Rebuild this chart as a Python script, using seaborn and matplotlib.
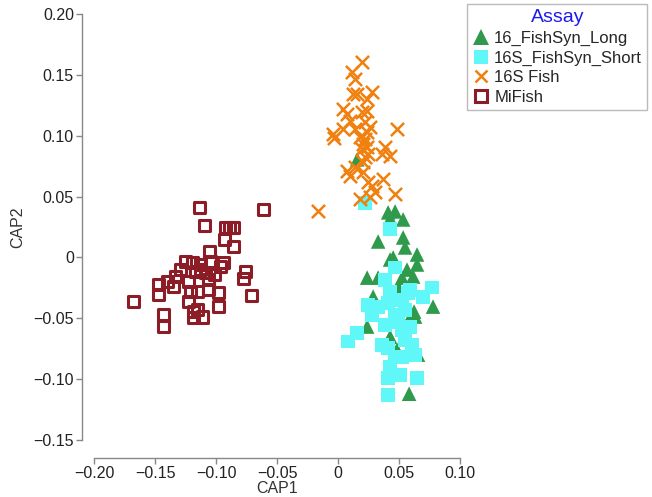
import matplotlib
matplotlib.use("Agg")
import matplotlib.pyplot as plt
import seaborn as sns
import pandas as pd
from matplotlib.lines import Line2D

# CAP scores
long_x = [0.0411, 0.0468, 0.0534, 0.0427, 0.0329, 0.0534, 0.0550, 0.0648, 0.0452, 0.0427,
          0.0648, 0.0566, 0.0239, 0.0329, 0.0525, 0.0493, 0.0616, 0.0157, 0.0288, 0.0779,
          0.0624, 0.0239, 0.0574, 0.0632, 0.0427, 0.0484, 0.0656, 0.0566, 0.0583, 0.0509]
long_y = [0.0370, 0.0378, 0.0312, 0.0320, 0.0131, 0.0164, 0.0082, 0.0024, -0.0001, -0.0017,
          -0.0058, -0.0100, -0.0166, -0.0166, -0.0166, -0.0240, -0.0157, 0.0806, -0.0322, -0.0404,
          -0.0445, -0.0568, -0.0527, -0.0486, -0.0651, -0.0758, -0.0799, -0.0783, -0.1120, -0.0322]

short_x = [0.0223, 0.0427, 0.0468, 0.0386, 0.0591, 0.0771, 0.0427, 0.0247, 0.0329, 0.0411,
           0.0525, 0.0574, 0.0157, 0.0084, 0.0362, 0.0411, 0.0550, 0.0607, 0.0525, 0.0632,
           0.0468, 0.0427, 0.0509, 0.0411, 0.0648, 0.0411, 0.0493, 0.0525, 0.0591, 0.0280,
           0.0697, 0.0468, 0.0550, 0.0386]
short_y = [0.0444, 0.0230, -0.0083, -0.0182, -0.0264, -0.0247, -0.0280, -0.0388, -0.0404, -0.0371,
           -0.0347, -0.0289, -0.0618, -0.0691, -0.0717, -0.0742, -0.0675, -0.0717, -0.0815, -0.0799,
           -0.0815, -0.0898, -0.0964, -0.0989, -0.0989, -0.1129, -0.0535, -0.0593, -0.0568, -0.0470,
           -0.0322, -0.0470, -0.0429, -0.0552]

fish_x = [0.0198, 0.0116, 0.0141, 0.0124, 0.0157, 0.0280, 0.0239, 0.0043, 0.0075, 0.0198,
          0.0239, 0.0100, 0.0223, 0.0264, 0.0043, 0.0141, 0.0484, -0.0039, 0.0239, -0.0031,
          0.0182, 0.0223, 0.0206, 0.0239, 0.0198, 0.0386, 0.0427, 0.0362, 0.0223, 0.0206,
          0.0141, 0.0075, 0.0100, 0.0206, 0.0247, 0.0370, 0.0305, 0.0182, 0.0264, 0.0468,
          -0.0162, 0.0280, 0.0247]
fish_y = [0.1605, 0.1523, 0.1466, 0.1342, 0.1342, 0.1358, 0.1301, 0.1218, 0.1177, 0.1194,
          0.1202, 0.1119, 0.1111, 0.1070, 0.1054, 0.1054, 0.1054, 0.1012, 0.1029, 0.0979,
          0.0988, 0.0971, 0.0930, 0.0905, 0.0889, 0.0905, 0.0831, 0.0848, 0.0823, 0.0782,
          0.0741, 0.0708, 0.0667, 0.0699, 0.0617, 0.0642, 0.0535, 0.0477, 0.0493, 0.0518,
          0.0378, 0.0584, 0.0848]

mifish_x = [-0.1136, -0.0612, -0.1095, -0.0923, -0.0890, -0.0857, -0.0931, -0.0857, -0.1054, -0.1046,
            -0.0939, -0.0964, -0.1128, -0.1250, -0.1193, -0.1291, -0.1169, -0.1332, -0.1087, -0.1398,
            -0.1472, -0.1472, -0.1349, -0.1226, -0.1062, -0.1210, -0.1152, -0.1062, -0.0980, -0.1226,
            -0.1185, -0.1185, -0.1152, -0.1111, -0.0980, -0.1676, -0.1430, -0.1430, -0.0759, -0.0776,
            -0.0710, -0.1128, -0.1013]
mifish_y = [0.0411, 0.0395, 0.0263, 0.0246, 0.0246, 0.0246, 0.0148, 0.0090, 0.0049, -0.0032,
            -0.0041, -0.0074, -0.0058, -0.0034, -0.0042, -0.0100, -0.0116, -0.0157, -0.0124, -0.0198,
            -0.0223, -0.0305, -0.0240, -0.0198, -0.0182, -0.0281, -0.0281, -0.0264, -0.0289, -0.0362,
            -0.0445, -0.0494, -0.0429, -0.0487, -0.0404, -0.0362, -0.0470, -0.0569, -0.0116, -0.0174,
            -0.0314, -0.0100, -0.0141]

x_ticks = [-0.20, -0.15, -0.10, -0.05, 0, 0.05, 0.10]
x_labels = ["\u22120.20", "\u22120.15", "\u22120.10", "\u22120.05", "0", "0.05", "0.10"]
y_ticks = [-0.15, -0.10, -0.05, 0, 0.05, 0.10, 0.15, 0.20]
y_labels = ["\u22120.15", "\u22120.10", "\u22120.05", "0", "0.05", "0.10", "0.15", "0.20"]

assays = ["16_FishSyn_Long", "16S_FishSyn_Short", "16S Fish", "MiFish"]
colors = ["#2f9a4c", "#5ff7f7", "#f0800f", "#8c1c26"]

sns.set_style("white")
plt.rcParams['font.family'] = ['Liberation Sans', 'DejaVu Sans']

fig = plt.figure(figsize=(6.52, 4.97), dpi=100)
ax = fig.add_axes([0.1442, 0.1147, 0.5613, 0.8571])

df_long = pd.DataFrame({"CAP1": long_x, "CAP2": long_y})
df_short = pd.DataFrame({"CAP1": short_x, "CAP2": short_y})
df_fish = pd.DataFrame({"CAP1": fish_x, "CAP2": fish_y})
df_mi = pd.DataFrame({"CAP1": mifish_x, "CAP2": mifish_y})

sns.scatterplot(data=df_mi, x="CAP1", y="CAP2", ax=ax, marker="s", s=70,
                facecolor="none", edgecolor=colors[3], linewidth=2.2)
sns.scatterplot(data=df_long, x="CAP1", y="CAP2", ax=ax, marker="^", s=110,
                color=colors[0], edgecolor="none", linewidth=0)
sns.scatterplot(data=df_short, x="CAP1", y="CAP2", ax=ax, marker="s", s=100,
                color=colors[1], edgecolor="none", linewidth=0)
sns.scatterplot(data=df_fish, x="CAP1", y="CAP2", ax=ax, marker="x", s=90,
                color=colors[2], linewidth=1.8)

ax.set_xlim(-0.20, 0.10)
ax.set_ylim(-0.15, 0.20)
ax.set_xticks(x_ticks)
ax.set_xticklabels(x_labels)
ax.set_yticks(y_ticks)
ax.set_yticklabels(y_labels)
ax.set_xlabel("CAP1", fontsize=11.5, color="#333333", labelpad=0)
ax.set_ylabel("CAP2", fontsize=11.5, color="#333333", labelpad=6)
ax.tick_params(axis="both", labelsize=11.5, labelcolor="#222222", color="#888888",
               direction="out", length=4, width=1, pad=1.5, left=True, bottom=True)

for side in ["top", "right"]:
    ax.spines[side].set_visible(False)
ax.spines["left"].set_position(("outward", 9))
ax.spines["bottom"].set_position(("outward", 13))
for side in ["left", "bottom"]:
    ax.spines[side].set_color("#888888")
    ax.spines[side].set_linewidth(1)

handles = [
    Line2D([], [], linestyle="none", marker="^", markersize=11, color=colors[0], markeredgewidth=0),
    Line2D([], [], linestyle="none", marker="s", markersize=10, color=colors[1], markeredgewidth=0),
    Line2D([], [], linestyle="none", marker="x", markersize=8, color=colors[2], markeredgewidth=1.8),
    Line2D([], [], linestyle="none", marker="s", markersize=8, markerfacecolor="none",
           markeredgecolor=colors[3], markeredgewidth=2.2),
]
leg = fig.legend(handles, assays, title="Assay", loc="upper left",
                 bbox_to_anchor=(0.717, 0.992), fontsize=12, title_fontsize=14,
                 frameon=True, fancybox=False, borderpad=0.3, handletextpad=0.3,
                 handlelength=1.0, labelspacing=0.28, borderaxespad=0)
leg.get_title().set_color("#1a1aee")
leg.get_frame().set_edgecolor("#aaaaaa")
leg.get_frame().set_linewidth(1)

fig.savefig("out.png", dpi=100)
